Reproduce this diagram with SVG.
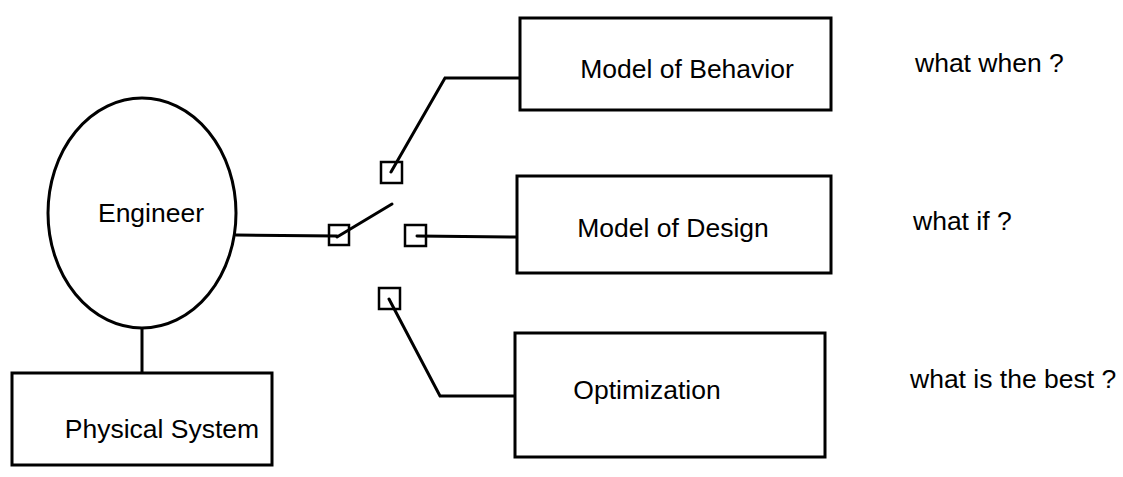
<svg xmlns="http://www.w3.org/2000/svg" width="1123" height="477" viewBox="0 0 1123 477">
  <style>
    .shape { fill: #fff; stroke: #000; stroke-width: 3; }
    .sq { fill: none; stroke: #000; stroke-width: 2.5; }
    .wire { fill: none; stroke: #000; stroke-width: 3; stroke-linecap: round; stroke-linejoin: miter; }
    .lbl { font-family: "Liberation Sans", Arial, sans-serif; font-size: 26.5px; fill: #000; }
  </style>
  <rect width="1123" height="477" fill="#fff"/>

  <!-- connectors -->
  <g id="connectors">
    <line class="wire" x1="142" y1="327" x2="142" y2="373"/>
    <line class="wire" x1="236" y1="235" x2="337" y2="236"/>
    <!-- switch lever -->
    <line class="wire" x1="337" y1="237" x2="392" y2="204"/>
    <polyline class="wire" points="391,172 445,78 520,78"/>
    <line class="wire" x1="417" y1="236" x2="517" y2="237"/>
    <polyline class="wire" points="389,299 440,396 515,396"/>
  </g>

  <!-- switch contacts -->
  <g id="contacts">
    <rect class="sq" x="329" y="225" width="20" height="20"/>
    <rect class="sq" x="381" y="162" width="21" height="21"/>
    <rect class="sq" x="405" y="225" width="21" height="21"/>
    <rect class="sq" x="379" y="288" width="21" height="21"/>
  </g>

  <g id="engineer">
    <ellipse class="shape" cx="142" cy="213" rx="94" ry="115"/>
    <text class="lbl" x="151" y="222" text-anchor="middle">Engineer</text>
  </g>

  <g id="physical-system">
    <rect class="shape" x="12" y="373" width="260" height="92"/>
    <text class="lbl" x="162" y="438" text-anchor="middle">Physical System</text>
  </g>

  <g id="model-of-behavior">
    <rect class="shape" x="520" y="18" width="311" height="92"/>
    <text class="lbl" x="687" y="78" text-anchor="middle">Model of Behavior</text>
  </g>

  <g id="model-of-design">
    <rect class="shape" x="517" y="176" width="314" height="97"/>
    <text class="lbl" x="673" y="237" text-anchor="middle">Model of Design</text>
  </g>

  <g id="optimization">
    <rect class="shape" x="515" y="333" width="310" height="124"/>
    <text class="lbl" x="647" y="399" text-anchor="middle">Optimization</text>
  </g>

  <g id="questions">
    <text class="lbl" x="915" y="72">what when ?</text>
    <text class="lbl" x="913" y="230">what if ?</text>
    <text class="lbl" x="910" y="388">what is the best ?</text>
  </g>
</svg>
